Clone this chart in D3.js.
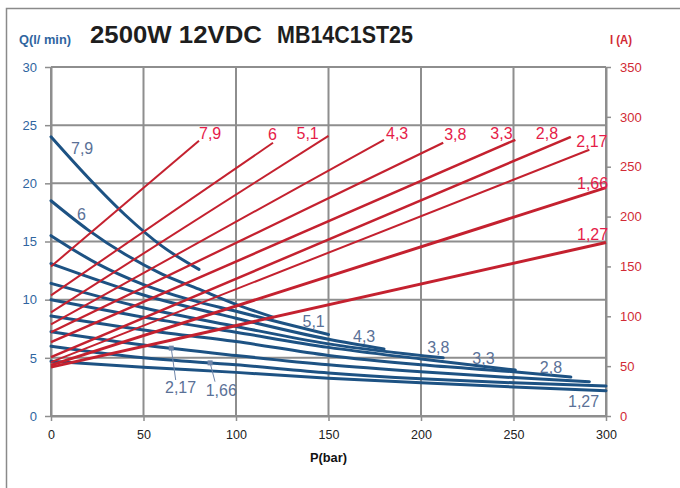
<!DOCTYPE html>
<html>
<head>
<meta charset="utf-8">
<script src="https://cdn.jsdelivr.net/npm/d3@7"></script>
<style>
  html, body { margin: 0; padding: 0; background: #fff; }
  svg { display: block; }
</style>
</head>
<body>
<svg id="chart" width="680" height="488"></svg>
<script>
// Pump sizes (cc) used as series names
const seriesNames = ["7,9", "6", "5,1", "4,3", "3,8", "3,3", "2,8", "2,17", "1,66", "1,27"];

// Flow Q (l/min) against pressure P (bar) for each pump
const flow79  = [[0, 24.0], [20, 20.5], [40, 17.3], [60, 14.6], [80, 12.6]];
const flow6   = [[0, 18.5], [20, 16.0], [40, 13.9], [60, 12.2], [80, 10.9], [100, 9.6], [120, 8.5]];
const flow51  = [[0, 15.5], [25, 13.1], [50, 11.3], [75, 10.0], [100, 9.0], [125, 8.0], [150, 7.0]];
const flow43  = [[0, 13.1], [50, 10.4], [100, 8.4], [150, 6.6], [180, 5.76]];
const flow38  = [[0, 11.4], [50, 9.3], [100, 7.7], [150, 6.2], [212, 5.0]];
const flow33  = [[0, 10.0], [50, 8.5], [100, 7.2], [150, 5.9], [200, 4.9], [251, 3.95]];
const flow28  = [[0, 8.6], [50, 7.4], [100, 6.4], [150, 5.2], [200, 4.4], [250, 3.8], [281, 3.35]];
const flow217 = [[0, 7.25], [50, 6.1], [100, 5.2], [150, 4.4], [200, 3.8], [250, 3.3], [291, 2.95]];
const flow166 = [[0, 6.0], [50, 5.0], [100, 4.4], [150, 3.7], [200, 3.2], [250, 2.85], [300, 2.58]];
const flow127 = [[0, 4.7], [50, 4.2], [100, 3.75], [150, 3.25], [200, 2.85], [250, 2.5], [300, 2.17]];
const flowSeries = [flow79, flow6, flow51, flow43, flow38, flow33, flow28, flow217, flow166, flow127];

// Current I (A): value at 0 bar and at the maximum pressure of each pump
const maxPressure  = [80, 120, 150, 180, 212, 251, 281, 291, 300, 300];
const currentStart = [150, 121, 104, 92, 84, 74, 59, 54, 51, 49];
const currentEnd   = [276, 274, 281, 277, 274, 277, 280, 267, 229, 174];

// Axis ticks
const pressureTicks = [0, 50, 100, 150, 200, 250, 300];
const flowTicks     = [0, 5, 10, 15, 20, 25, 30];
const currentTicks  = [0, 50, 100, 150, 200, 250, 300, 350];

// ---- styling / layout ----
const C = {
  grid: "#8e8e8e",
  blue: "#1d5283",
  red: "#c4212f",
  blueText: "#5a7197",
  redText: "#e51c49",
  axisBlue: "#2f65a0",
  axisRed: "#d12a35"
};
const redWidths = [2, 2, 2, 2, 2.3, 2.5, 2.5, 2, 3, 3];
// label offsets (px) from the end of each current line: [dx, dy]
const redLabelOffset = [[0, -1.5], [-5, -3], [-32, 3.5], [2, -0.5], [1, -3], [-25, -0.5], [-35, 2.5], [-13, -3], [-29, 1.5], [-29, -2]];
// flow label placement relative to the curve start/end, or with a leader at a pressure
const blueLabelPlace = [
  {at: "start", dx: 20, dy: 17},
  {at: "start", dx: 26, dy: 19},
  {at: "end", dx: -26, dy: -7.5},
  {at: "end", dx: -31, dy: -7},
  {at: "end", dx: -16, dy: -4.5},
  {at: "end", dx: -43, dy: -6},
  {at: "end", dx: -31, dy: -4},
  {at: "leader", p: 65, tx: 165, ty: 392.7, lx: 175.7, ly: 380},
  {at: "leader", p: 86, tx: 205.7, ty: 396, lx: 215, ly: 381.7},
  {at: "end", dx: -38, dy: 16.5}
];

const svg = d3.select("#chart");
const plotLeft = 51, plotRight = 606, plotTop = 67, plotBottom = 416;

const x = d3.scaleLinear().domain([0, 300]).range([plotLeft, plotRight]);
const yQ = d3.scaleLinear().domain([0, 30]).range([plotBottom, plotTop]);
const yI = d3.scaleLinear().domain([0, 350]).range([plotBottom, plotTop]);

// outer frame
svg.append("rect").attr("x", 6.5).attr("y", 8.5).attr("width", 720).attr("height", 520)
  .attr("fill", "#fff").attr("stroke", "#8a8a8a").attr("stroke-width", 1.5);

// grid
const grid = svg.append("g");
grid.selectAll("line.h").data(flowTicks).join("line").attr("class", "h")
  .attr("x1", plotLeft).attr("x2", plotRight)
  .attr("y1", d => yQ(d)).attr("y2", d => yQ(d))
  .attr("stroke", C.grid).attr("stroke-width", 2);
grid.selectAll("line.v").data(pressureTicks).join("line").attr("class", "v")
  .attr("y1", plotTop).attr("y2", plotBottom)
  .attr("x1", d => x(d)).attr("x2", d => x(d))
  .attr("stroke", C.grid).attr("stroke-width", 2);

// axes
const font = "'Liberation Sans', Arial, sans-serif";
const narrow = "'Liberation Sans Narrow', 'Arial Narrow', 'Liberation Sans', sans-serif";

function styleAxis(g, color) {
  g.select(".domain").attr("stroke", C.grid).attr("stroke-width", 2);
  g.selectAll(".tick line").attr("stroke", C.grid).attr("stroke-width", 1.5);
  g.selectAll(".tick text").attr("fill", color).style("font-family", font).style("font-size", "13px");
}

const gx = svg.append("g").attr("transform", `translate(0,${plotBottom})`)
  .call(d3.axisBottom(x).tickValues(pressureTicks).tickSize(5).tickSizeOuter(0).tickPadding(9));
styleAxis(gx, "#222");
gx.selectAll(".tick text").style("font-size", "12.5px");

const gl = svg.append("g").attr("transform", `translate(${plotLeft},0)`)
  .call(d3.axisLeft(yQ).tickValues(flowTicks).tickSize(6).tickSizeOuter(0).tickPadding(8));
styleAxis(gl, C.axisBlue);

const gr = svg.append("g").attr("transform", `translate(${plotRight},0)`)
  .call(d3.axisRight(yI).tickValues(currentTicks).tickSize(5).tickSizeOuter(0).tickPadding(9));
styleAxis(gr, C.axisRed);

// flow curves
const flowLine = d3.line().x(d => x(d[0])).y(d => yQ(d[1])).curve(d3.curveMonotoneX);
svg.append("g").selectAll("path").data(flowSeries).join("path")
  .attr("d", flowLine)
  .attr("fill", "none").attr("stroke", C.blue).attr("stroke-width", 3)
  .attr("stroke-linecap", "round");

// current lines
const currentData = seriesNames.map((n, i) => [[0, currentStart[i]], [maxPressure[i], currentEnd[i]]]);
const currentLine = d3.line().x(d => x(d[0])).y(d => yI(d[1]));
svg.append("g").selectAll("path").data(currentData).join("path")
  .attr("d", currentLine)
  .attr("fill", "none").attr("stroke", C.red)
  .attr("stroke-width", (d, i) => redWidths[i]);

// current labels
svg.append("g").selectAll("text").data(currentData).join("text")
  .attr("x", (d, i) => x(d[1][0]) + redLabelOffset[i][0])
  .attr("y", (d, i) => yI(d[1][1]) + redLabelOffset[i][1])
  .attr("fill", C.redText)
  .style("font-family", font).style("font-size", "16px")
  .text((d, i) => seriesNames[i]);

// flow labels
function flowAt(series, p) {
  for (let k = 1; k < series.length; k++) {
    if (p <= series[k][0]) {
      const a = series[k - 1], b = series[k];
      return a[1] + (b[1] - a[1]) * (p - a[0]) / (b[0] - a[0]);
    }
  }
  return series[series.length - 1][1];
}
const bl = svg.append("g");
flowSeries.forEach((s, i) => {
  const pl = blueLabelPlace[i];
  let tx, ty;
  if (pl.at === "start") {
    tx = x(s[0][0]) + pl.dx; ty = yQ(s[0][1]) + pl.dy;
  } else if (pl.at === "end") {
    const e = s[s.length - 1];
    tx = x(e[0]) + pl.dx; ty = yQ(e[1]) + pl.dy;
  } else {
    const px = x(pl.p), py = yQ(flowAt(s, pl.p));
    bl.append("line").attr("x1", px).attr("y1", py).attr("x2", pl.lx).attr("y2", pl.ly)
      .attr("stroke", "#6f86aa").attr("stroke-width", 1);
    bl.append("rect").attr("x", px - 2.5).attr("y", py - 2.5).attr("width", 5).attr("height", 5)
      .attr("fill", "#6f86aa");
    tx = pl.tx; ty = pl.ty;
  }
  bl.append("text").attr("x", tx).attr("y", ty)
    .attr("fill", C.blueText)
    .style("font-family", font).style("font-size", "16px")
    .text(seriesNames[i]);
});

// titles
svg.append("text").attr("x", 90).attr("y", 42.5)
  .attr("textLength", 172).attr("lengthAdjust", "spacingAndGlyphs")
  .style("font-family", narrow).style("font-weight", "bold").style("font-size", "23px")
  .attr("fill", "#1e1e1e").text("2500W 12VDC");
svg.append("text").attr("x", 277).attr("y", 42.5)
  .attr("textLength", 136).attr("lengthAdjust", "spacingAndGlyphs")
  .style("font-family", narrow).style("font-weight", "bold").style("font-size", "23px")
  .attr("fill", "#1e1e1e").text("MB14C1ST25");

svg.append("text").attr("x", 19).attr("y", 44)
  .attr("textLength", 52).attr("lengthAdjust", "spacingAndGlyphs")
  .style("font-family", narrow).style("font-weight", "bold").style("font-size", "12px")
  .attr("fill", C.axisBlue).text("Q(l/ min)");
svg.append("text").attr("x", 610).attr("y", 44)
  .attr("textLength", 22).attr("lengthAdjust", "spacingAndGlyphs")
  .style("font-family", narrow).style("font-weight", "bold").style("font-size", "12px")
  .attr("fill", C.axisRed).text("I (A)");
svg.append("text").attr("x", 310).attr("y", 462)
  .attr("textLength", 37).attr("lengthAdjust", "spacingAndGlyphs")
  .style("font-family", narrow).style("font-weight", "bold").style("font-size", "12.5px")
  .attr("fill", "#111").text("P(bar)");
</script>
</body>
</html>
